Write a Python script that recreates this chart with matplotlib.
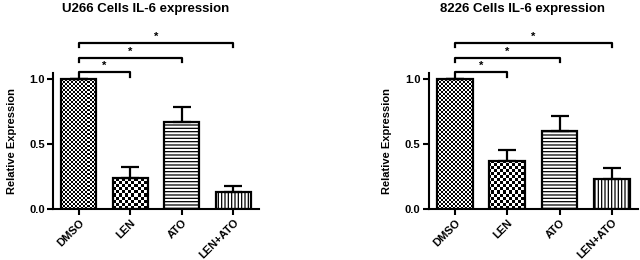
"""
Relative IL-6 expression in U266 and 8226 cells, two bar panels
with error bars and significance brackets.
"""

import numpy as np
import matplotlib
matplotlib.use('Agg')
import matplotlib.pyplot as plt

plt.rcParams['font.family'] = ['Liberation Sans', 'DejaVu Sans']
plt.rcParams['font.weight'] = 'bold'
plt.rcParams['hatch.linewidth'] = 0.9

groups = ['DMSO', 'LEN', 'ATO', 'LEN+ATO']

u266_mean = [1.0, 0.24, 0.67, 0.13]
u266_err = [0.0, 0.085, 0.115, 0.045]

rpmi8226_mean = [1.0, 0.37, 0.60, 0.235]
rpmi8226_err = [0.0, 0.085, 0.115, 0.085]

# significance brackets: (from group, to group, height)
brackets = [(0, 1, 1.055), (0, 2, 1.165), (0, 3, 1.28)]

panels = [
    ('U266 Cells IL-6 expression', u266_mean, u266_err, [0.083, 0.196, 0.322, 0.524]),
    ('8226 Cells IL-6 expression', rpmi8226_mean, rpmi8226_err, [0.670, 0.196, 0.327, 0.524]),
]

FIG_W, FIG_H, DPI = 6.4, 2.6, 100


def checker_fill(ax, patch, cell_px, rect):
    """Fill a bar patch with a black/white checkerboard image."""
    w_px = rect[2] * FIG_W * DPI
    h_px = rect[3] * FIG_H * DPI
    nx = int(round(w_px / cell_px))
    ny = int(round(h_px / cell_px))
    board = np.indices((ny, nx)).sum(axis=0) % 2
    x0, x1 = ax.get_xlim()
    y0, y1 = ax.get_ylim()
    im = ax.imshow(board, cmap='gray', extent=(x0, x1, y0, y1), origin='lower',
                   interpolation='nearest', aspect='auto', zorder=1.5)
    im.set_clip_path(patch)


def draw_panel(fig, title, means, errs, rect):
    ax = fig.add_axes(rect)
    x = np.arange(len(groups))
    ax.set_xlim(-0.5, 3.5)
    ax.set_ylim(0, 1.05)

    hatches = [None, None, '-----', '|||||']
    faces = ['none', 'none', 'white', 'white']
    bars = ax.bar(x, means, width=0.68, color=faces, edgecolor='black',
                  linewidth=1.6, zorder=2)
    for bar, h in zip(bars, hatches):
        if h:
            bar.set_hatch(h)

    checker_fill(ax, bars[0], 2.0, rect)
    checker_fill(ax, bars[1], 3.0, rect)
    ax.set_xlim(-0.5, 3.5)
    ax.set_ylim(0, 1.05)

    lower = np.zeros(len(errs))
    ax.errorbar(x, means, yerr=[lower, errs], fmt='none', ecolor='black',
                elinewidth=1.6, capsize=6.5, capthick=1.6, zorder=3)

    # significance brackets
    tick_h = 0.035
    for g0, g1, y in brackets:
        ax.plot([x[g0], x[g0], x[g1], x[g1]], [y - tick_h, y, y, y - tick_h],
                color='black', linewidth=1.6, clip_on=False)
        ax.text((x[g0] + x[g1]) / 2, y + 0.045, '*', ha='center', va='center',
                fontsize=8, fontweight='bold')

    ax.spines['top'].set_visible(False)
    ax.spines['right'].set_visible(False)
    ax.spines['left'].set_linewidth(1.5)
    ax.spines['bottom'].set_linewidth(1.5)

    ax.set_yticks([0.0, 0.5, 1.0])
    ax.set_yticklabels(['0.0', '0.5', '1.0'], fontsize=8, fontweight='bold')
    ax.set_xticks(x)
    ax.set_xticklabels(groups, rotation=45, ha='right', rotation_mode='anchor',
                       fontsize=8, fontweight='bold')
    ax.tick_params(axis='both', width=1.5, length=4, pad=2)
    ax.set_ylabel('Relative Expression', fontsize=8, fontweight='bold', labelpad=9)

    fig.text(rect[0] + rect[2] / 2 - 0.017, 0.965, title, ha='center', va='center',
             fontsize=9.5, fontweight='bold')


fig = plt.figure(figsize=(FIG_W, FIG_H), dpi=DPI)
for title, means, errs, rect in panels:
    draw_panel(fig, title, means, errs, rect)

fig.savefig('out.png', dpi=DPI)
